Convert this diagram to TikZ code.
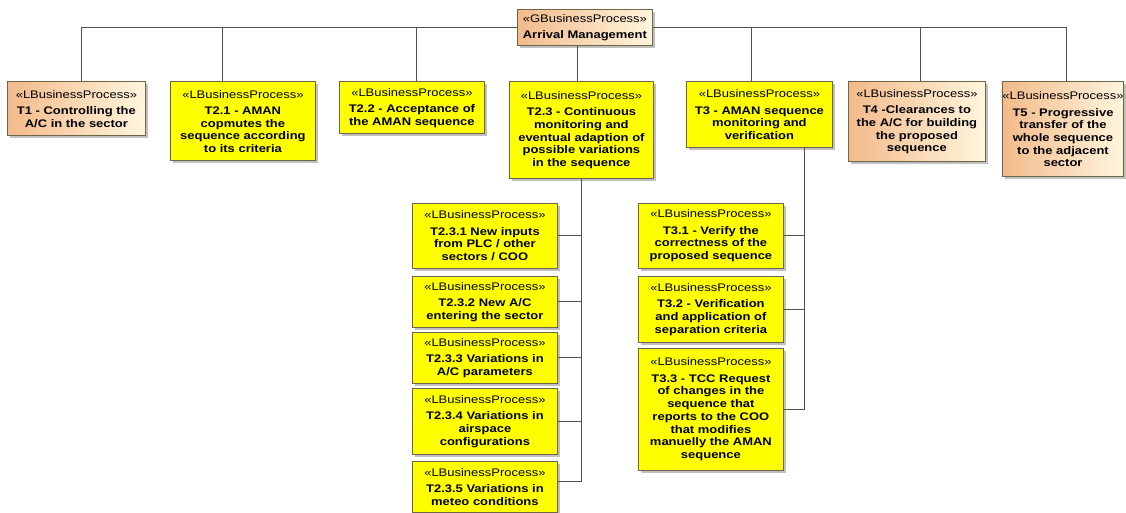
\documentclass[tikz,border=0pt]{standalone}
\usepackage{fontspec}
\usetikzlibrary{shadows}
\newfontfamily\bpf[FakeStretch=1.18]{Liberation Sans}
\definecolor{procyellow}{RGB}{255,255,0}
\definecolor{orangeA}{RGB}{243,186,138}
\definecolor{orangeB}{RGB}{255,246,222}
\definecolor{boxline}{RGB}{110,100,70}
\definecolor{connline}{RGB}{80,80,80}
% stereotype line followed by a small gap
\newcommand\stereo[1]{{\mdseries\guillemotleft#1\guillemotright}\\[3.6pt]}
\tikzset{
  bpbox/.style={draw=boxline, line width=0.8pt, rectangle, inner sep=0pt,
    anchor=north west, align=center,
    font=\bpf\fontsize{11}{12.7}\selectfont\bfseries,
    drop shadow={shadow xshift=2.5pt, shadow yshift=-2.5pt, fill=black!45, opacity=0.55}},
  yelbox/.style={bpbox, fill=procyellow},
  orbox/.style={bpbox, left color=orangeA, right color=orangeB},
  conn/.style={draw=connline, line width=0.9pt},
}
\begin{document}
\begin{tikzpicture}[x=1pt, y=-1pt]
\useasboundingbox (0,0) rectangle (1126,513);

% root process
\node[orbox, minimum width=135pt, minimum height=36pt] (root) at (517,9)
  {\stereo{GBusinessProcess}Arrival Management};

% first level
\node[orbox, minimum width=138pt, minimum height=53.5pt] (t1) at (7,81.5)
  {\stereo{LBusinessProcess}T1 - Controlling the\\A/C in the sector};
\node[yelbox, minimum width=145pt, minimum height=79pt] (t21) at (170,81.5)
  {\stereo{LBusinessProcess}T2.1 - AMAN\\copmutes the\\sequence according\\to its criteria};
\node[yelbox, minimum width=145pt, minimum height=52pt] (t22) at (339,81.5)
  {\stereo{LBusinessProcess}T2.2 - Acceptance of\\the AMAN sequence};
\node[yelbox, minimum width=144pt, minimum height=96.5pt] (t23) at (509,81.5)
  {\stereo{LBusinessProcess}T2.3 - Continuous\\monitoring and\\eventual adaption of\\possible variations\\in the sequence};
\node[yelbox, minimum width=146pt, minimum height=66pt] (t3) at (686,81.5)
  {\stereo{LBusinessProcess}T3 - AMAN sequence\\monitoring and\\verification};
\node[orbox, minimum width=137pt, minimum height=80pt] (t4) at (848,81.5)
  {\stereo{LBusinessProcess}T4 -Clearances to\\the A/C for building\\the proposed\\sequence};
\node[orbox, minimum width=121pt, minimum height=95pt] (t5) at (1002,81.5)
  {\stereo{LBusinessProcess}T5 - Progressive\\transfer of the\\whole sequence\\to the adjacent\\sector};

% children of T2.3
\node[yelbox, minimum width=145pt, minimum height=65pt] (t231) at (412,203)
  {\stereo{LBusinessProcess}T2.3.1 New inputs\\from PLC / other\\sectors / COO};
\node[yelbox, minimum width=145pt, minimum height=51pt] (t232) at (412,276)
  {\stereo{LBusinessProcess}T2.3.2 New A/C\\entering the sector};
\node[yelbox, minimum width=145pt, minimum height=51pt] (t233) at (412,332)
  {\stereo{LBusinessProcess}T2.3.3 Variations in\\A/C parameters};
\node[yelbox, minimum width=145pt, minimum height=66pt] (t234) at (412,388)
  {\stereo{LBusinessProcess}T2.3.4 Variations in\\airspace\\configurations};
\node[yelbox, minimum width=145pt, minimum height=51pt] (t235) at (412,461)
  {\stereo{LBusinessProcess}T2.3.5 Variations in\\meteo conditions};

% children of T3
\node[yelbox, minimum width=145pt, minimum height=65pt] (t31) at (638,203)
  {\stereo{LBusinessProcess}T3.1 - Verify the\\correctness of the\\proposed sequence};
\node[yelbox, minimum width=145pt, minimum height=66pt] (t32) at (638,276)
  {\stereo{LBusinessProcess}T3.2 - Verification\\and application of\\separation criteria};
\node[yelbox, minimum width=145pt, minimum height=122pt] (t33) at (638,348)
  {\stereo{LBusinessProcess}T3.3 - TCC Request\\of changes in the\\sequence that\\reports to the COO\\that modifies\\manuelly the AMAN\\sequence};

% tree connectors from the root
\draw[conn] (root.west) -| ([xshift=4.7pt]t1.north);
\draw[conn] (root.west) -| ([xshift=-20pt]t21.north);
\draw[conn] (root.west) -| ([xshift=4.5pt]t22.north);
\draw[conn] ([xshift=-4pt]t23.north |- root.south) -- ([xshift=-4pt]t23.north);
\draw[conn] (root.east) -| ([xshift=-8pt]t3.north);
\draw[conn] (root.east) -| ([xshift=3.5pt]t4.north);
\draw[conn] (root.east) -| ([xshift=3.5pt]t5.north);

% T2.3 sub-tree
\draw[conn] (t23.south) |- (t231.east);
\draw[conn] (t23.south) |- (t232.east);
\draw[conn] (t23.south) |- (t233.east);
\draw[conn] (t23.south) |- (t234.east);
\draw[conn] (t23.south) |- ([yshift=5pt]t235.east);

% T3 sub-tree
\coordinate (t3drop) at ([xshift=45pt]t3.south);
\draw[conn] (t3drop) |- (t31.east);
\draw[conn] (t3drop) |- (t32.east);
\draw[conn] (t3drop) |- (t33.east);
\end{tikzpicture}
\end{document}
